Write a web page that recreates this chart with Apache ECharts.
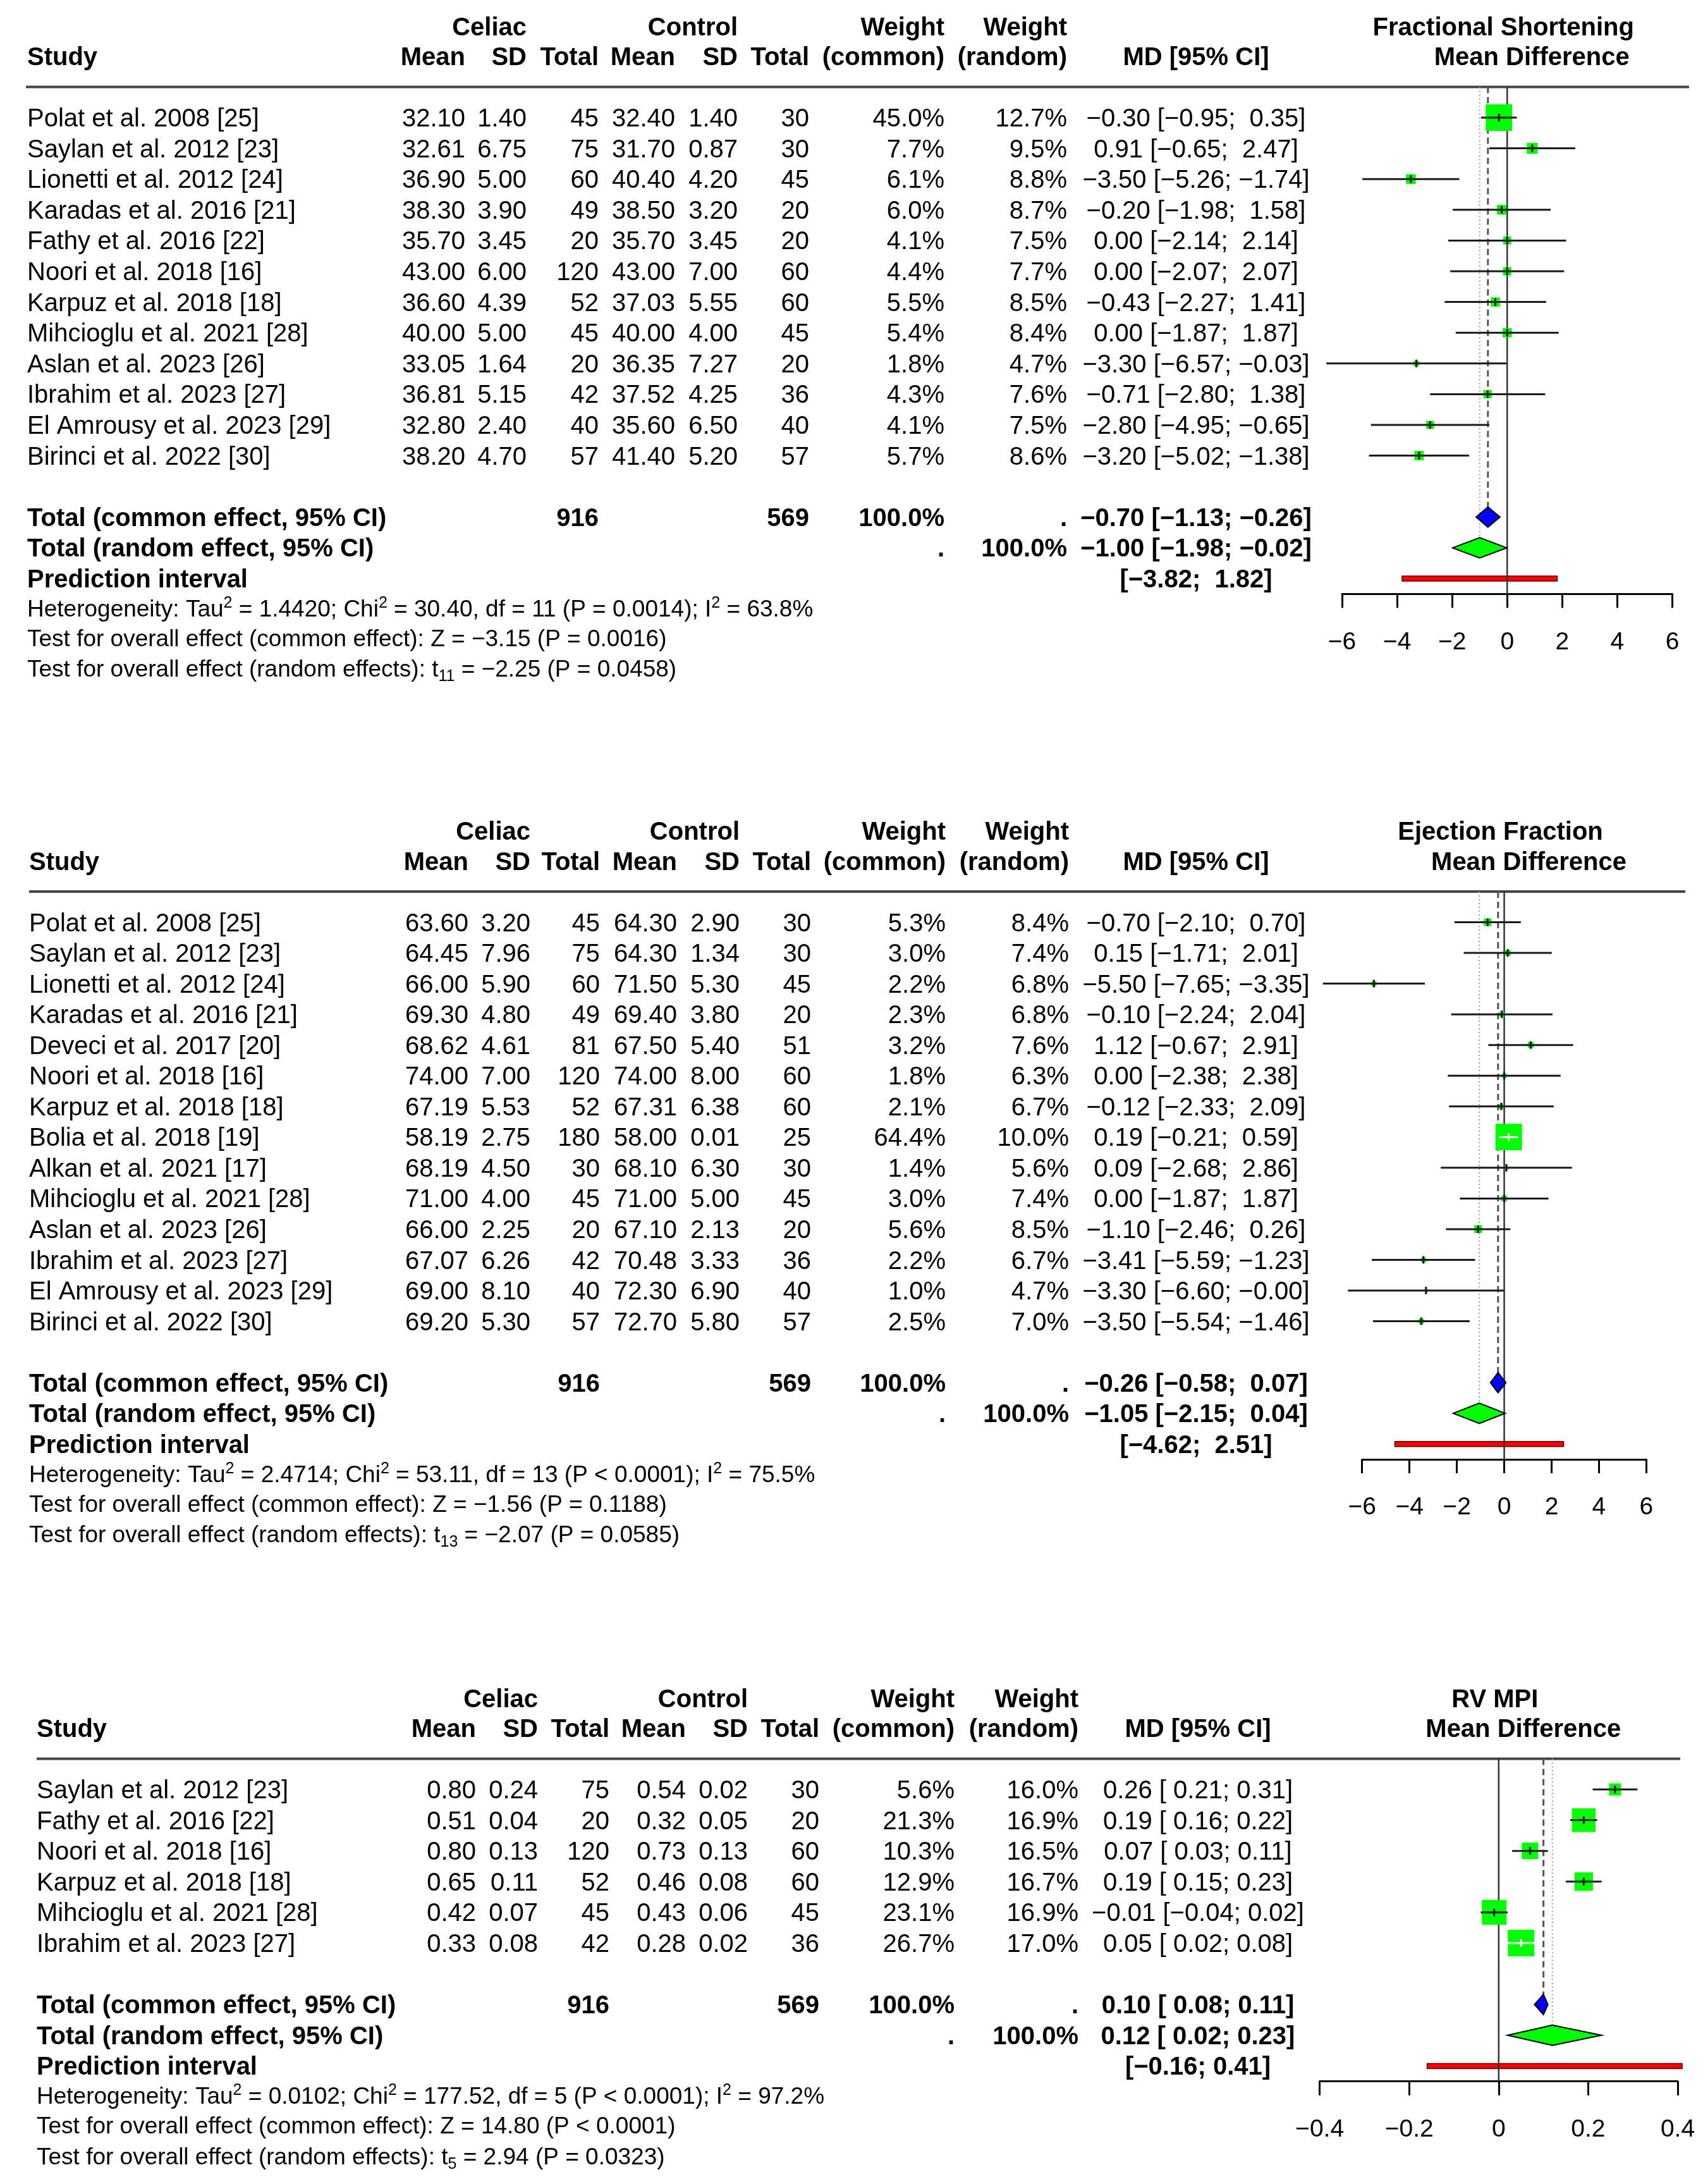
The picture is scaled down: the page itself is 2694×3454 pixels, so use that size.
<!DOCTYPE html>
<html>
<head>
<meta charset="utf-8">
<script src="https://cdn.jsdelivr.net/npm/echarts@6/dist/echarts.min.js"></script>
<style>
html,body{margin:0;padding:0;background:#fff;}
#main{width:2694px;height:3454px;}
</style>
</head>
<body>
<div id="main"></div>
<script>
// ---------------- DATA: Fractional Shortening ----------------
const fsStudy = ['Polat et al. 2008 [25]','Saylan et al. 2012 [23]','Lionetti et al. 2012 [24]','Karadas et al. 2016 [21]','Fathy et al. 2016 [22]','Noori et al. 2018 [16]','Karpuz et al. 2018 [18]','Mihcioglu et al. 2021 [28]','Aslan et al. 2023 [26]','Ibrahim et al. 2023 [27]','El Amrousy et al. 2023 [29]','Birinci et al. 2022 [30]'];
const fsCeliacMean = [32.10,32.61,36.90,38.30,35.70,43.00,36.60,40.00,33.05,36.81,32.80,38.20];
const fsCeliacSD   = [1.40,6.75,5.00,3.90,3.45,6.00,4.39,5.00,1.64,5.15,2.40,4.70];
const fsCeliacN    = [45,75,60,49,20,120,52,45,20,42,40,57];
const fsControlMean= [32.40,31.70,40.40,38.50,35.70,43.00,37.03,40.00,36.35,37.52,35.60,41.40];
const fsControlSD  = [1.40,0.87,4.20,3.20,3.45,7.00,5.55,4.00,7.27,4.25,6.50,5.20];
const fsControlN   = [30,30,45,20,20,60,60,45,20,36,40,57];
const fsWeightCommon = [45.0,7.7,6.1,6.0,4.1,4.4,5.5,5.4,1.8,4.3,4.1,5.7];
const fsWeightRandom = [12.7,9.5,8.8,8.7,7.5,7.7,8.5,8.4,4.7,7.6,7.5,8.6];
const fsMD    = [-0.30,0.91,-3.50,-0.20,0.00,0.00,-0.43,0.00,-3.30,-0.71,-2.80,-3.20];
const fsLower = [-0.95,-0.65,-5.26,-1.98,-2.14,-2.07,-2.27,-1.87,-6.57,-2.80,-4.95,-5.02];
const fsUpper = [0.35,2.47,-1.74,1.58,2.14,2.07,1.41,1.87,-0.03,1.38,-0.65,-1.38];
const fsTotals = [916,569];
const fsCommon = [-0.70,-1.13,-0.26];
const fsRandom = [-1.00,-1.98,-0.02];
const fsPI = [-3.82,1.82];
const fsTicks = [-6,-4,-2,0,2,4,6];
const fsTitle = ['Fractional Shortening','Mean Difference'];
const fsFooter = ['Heterogeneity: Tau{sup|2} = 1.4420; Chi{sup|2} = 30.40, df = 11 (P = 0.0014); I{sup|2} = 63.8%',
  'Test for overall effect (common effect): Z = \u22123.15 (P = 0.0016)',
  'Test for overall effect (random effects): t{sub|11} = \u22122.25 (P = 0.0458)'];

// ---------------- DATA: Ejection Fraction ----------------
const efStudy = ['Polat et al. 2008 [25]','Saylan et al. 2012 [23]','Lionetti et al. 2012 [24]','Karadas et al. 2016 [21]','Deveci et al. 2017 [20]','Noori et al. 2018 [16]','Karpuz et al. 2018 [18]','Bolia et al. 2018 [19]','Alkan et al. 2021 [17]','Mihcioglu et al. 2021 [28]','Aslan et al. 2023 [26]','Ibrahim et al. 2023 [27]','El Amrousy et al. 2023 [29]','Birinci et al. 2022 [30]'];
const efCeliacMean = [63.60,64.45,66.00,69.30,68.62,74.00,67.19,58.19,68.19,71.00,66.00,67.07,69.00,69.20];
const efCeliacSD   = [3.20,7.96,5.90,4.80,4.61,7.00,5.53,2.75,4.50,4.00,2.25,6.26,8.10,5.30];
const efCeliacN    = [45,75,60,49,81,120,52,180,30,45,20,42,40,57];
const efControlMean= [64.30,64.30,71.50,69.40,67.50,74.00,67.31,58.00,68.10,71.00,67.10,70.48,72.30,72.70];
const efControlSD  = [2.90,1.34,5.30,3.80,5.40,8.00,6.38,0.01,6.30,5.00,2.13,3.33,6.90,5.80];
const efControlN   = [30,30,45,20,51,60,60,25,30,45,20,36,40,57];
const efWeightCommon = [5.3,3.0,2.2,2.3,3.2,1.8,2.1,64.4,1.4,3.0,5.6,2.2,1.0,2.5];
const efWeightRandom = [8.4,7.4,6.8,6.8,7.6,6.3,6.7,10.0,5.6,7.4,8.5,6.7,4.7,7.0];
const efMD    = [-0.70,0.15,-5.50,-0.10,1.12,0.00,-0.12,0.19,0.09,0.00,-1.10,-3.41,-3.30,-3.50];
const efLower = [-2.10,-1.71,-7.65,-2.24,-0.67,-2.38,-2.33,-0.21,-2.68,-1.87,-2.46,-5.59,-6.60,-5.54];
const efUpper = [0.70,2.01,-3.35,2.04,2.91,2.38,2.09,0.59,2.86,1.87,0.26,-1.23,-0.003,-1.46];
const efTotals = [916,569];
const efCommon = [-0.26,-0.58,0.07];
const efRandom = [-1.05,-2.15,0.04];
const efPI = [-4.62,2.51];
const efTicks = [-6,-4,-2,0,2,4,6];
const efTitle = ['Ejection Fraction','Mean Difference'];
const efFooter = ['Heterogeneity: Tau{sup|2} = 2.4714; Chi{sup|2} = 53.11, df = 13 (P < 0.0001); I{sup|2} = 75.5%',
  'Test for overall effect (common effect): Z = \u22121.56 (P = 0.1188)',
  'Test for overall effect (random effects): t{sub|13} = \u22122.07 (P = 0.0585)'];

// ---------------- DATA: RV MPI ----------------
const rvStudy = ['Saylan et al. 2012 [23]','Fathy et al. 2016 [22]','Noori et al. 2018 [16]','Karpuz et al. 2018 [18]','Mihcioglu et al. 2021 [28]','Ibrahim et al. 2023 [27]'];
const rvCeliacMean = [0.80,0.51,0.80,0.65,0.42,0.33];
const rvCeliacSD   = [0.24,0.04,0.13,0.11,0.07,0.08];
const rvCeliacN    = [75,20,120,52,45,42];
const rvControlMean= [0.54,0.32,0.73,0.46,0.43,0.28];
const rvControlSD  = [0.02,0.05,0.13,0.08,0.06,0.02];
const rvControlN   = [30,20,60,60,45,36];
const rvWeightCommon = [5.6,21.3,10.3,12.9,23.1,26.7];
const rvWeightRandom = [16.0,16.9,16.5,16.7,16.9,17.0];
const rvMD    = [0.26,0.19,0.07,0.19,-0.01,0.05];
const rvLower = [0.21,0.16,0.03,0.15,-0.04,0.02];
const rvUpper = [0.31,0.22,0.11,0.23,0.02,0.08];
const rvTotals = [916,569];
const rvCommon = [0.10,0.08,0.11];
const rvRandom = [0.12,0.02,0.23];
const rvPI = [-0.16,0.41];
const rvTicks = [-0.4,-0.2,0,0.2,0.4];
const rvTitle = ['RV MPI','Mean Difference'];
const rvFooter = ['Heterogeneity: Tau{sup|2} = 0.0102; Chi{sup|2} = 177.52, df = 5 (P < 0.0001); I{sup|2} = 97.2%',
  'Test for overall effect (common effect): Z = 14.80 (P < 0.0001)',
  'Test for overall effect (random effects): t{sub|5} = 2.94 (P = 0.0323)'];

// ---------------- LAYOUT ----------------
const FONT = 'Arial, "Liberation Sans", Helvetica, sans-serif';
const MINUS = '\u2212';
const BOX = 42;
const TY = 3; // text baseline nudge

const panels = [
  { study: fsStudy, cm: fsCeliacMean, cs: fsCeliacSD, cn: fsCeliacN, km: fsControlMean, ks: fsControlSD, kn: fsControlN,
    wc: fsWeightCommon, wr: fsWeightRandom, md: fsMD, lo: fsLower, hi: fsUpper, totals: fsTotals,
    common: fsCommon, random: fsRandom, pi: fsPI, ticks: fsTicks, title: fsTitle, footer: fsFooter,
    L: { studyX: 43, lineX0: 41, lineX1: 2672, cols: [736,833,947,1068,1167,1280], wC: 1494, wR: 1688, ci: 1892,
         axL: 2123, axR: 2645.5, top: 137.4, rowH: 48.6 } },
  { study: efStudy, cm: efCeliacMean, cs: efCeliacSD, cn: efCeliacN, km: efControlMean, ks: efControlSD, kn: efControlN,
    wc: efWeightCommon, wr: efWeightRandom, md: efMD, lo: efLower, hi: efUpper, totals: efTotals,
    common: efCommon, random: efRandom, pi: efPI, ticks: efTicks, title: efTitle, footer: efFooter,
    L: { studyX: 46, lineX0: 46, lineX1: 2666, cols: [741,839,949,1071,1170,1283], wC: 1496, wR: 1691, ci: 1892,
         axL: 2154.7, axR: 2604.4, top: 1410, rowH: 48.54 } },
  { study: rvStudy, cm: rvCeliacMean, cs: rvCeliacSD, cn: rvCeliacN, km: rvControlMean, ks: rvControlSD, kn: rvControlN,
    wc: rvWeightCommon, wr: rvWeightRandom, md: rvMD, lo: rvLower, hi: rvUpper, totals: rvTotals,
    common: rvCommon, random: rvRandom, pi: rvPI, ticks: rvTicks, title: rvTitle, footer: rvFooter,
    L: { studyX: 58, lineX0: 58, lineX1: 2658, cols: [753,851,964,1085,1183,1296], wC: 1510, wR: 1706, ci: 1895,
         axL: 2087.6, axR: 2654, top: 2781.4, rowH: 48.6 } }
];

function fmt(v, d) { return v.toFixed(d).replace('-', MINUS); }
function pct(v) { return v.toFixed(1) + '%'; }
function padNum(v, pad) { return (pad && v >= 0 ? ' ' : '') + fmt(v, 2); }
function panelPads(p) {
  const los = p.lo.concat([p.common[1], p.random[1], p.pi[0]]);
  const his = p.hi.concat([p.common[2], p.random[2], p.pi[1]]);
  return { lo: los.some(v => v < 0), hi: his.some(v => v < 0) };
}
function ciStr(md, lo, hi, pads) { return fmt(md, 2) + ' [' + padNum(lo, pads.lo) + '; ' + padNum(hi, pads.hi) + ']'; }
function piStr(lo, hi, pads) { return '[' + padNum(lo, pads.lo) + '; ' + padNum(hi, pads.hi) + ']'; }

function T(text, x, y, align, bold, size) {
  return { type: 'text', x: x, y: y + TY, style: { text: text, fill: '#000', fontFamily: FONT, fontSize: size || 40,
    fontWeight: bold ? 'bold' : 'normal', align: align, verticalAlign: 'middle' } };
}
function RT(text, x, y) {
  return { type: 'text', x: x, y: y + TY, style: { text: text, fill: '#000', fontFamily: FONT, fontSize: 37, lineHeight: 46,
    align: 'left', verticalAlign: 'middle',
    rich: { sup: { fontFamily: FONT, fontSize: 25, lineHeight: 25, verticalAlign: 'top', fill: '#000' },
            sub: { fontFamily: FONT, fontSize: 25, lineHeight: 25, verticalAlign: 'bottom', fill: '#000' } } } };
}

function studySeries(p, idx) {
  const pads = panelPads(p);
  const maxW = Math.max.apply(null, p.wc);
  const L = p.L;
  return {
    type: 'custom', xAxisIndex: idx, yAxisIndex: idx, clip: false, silent: true, z: 5,
    data: p.md.map((v, i) => [v, i]),
    renderItem: function (params, api) {
      const i = params.dataIndex;
      const y = api.coord([0, i])[1];
      const ch = [];
      ch.push(T(p.study[i], L.studyX, y, 'left'));
      ch.push(T(fmt(p.cm[i], 2), L.cols[0], y, 'right'));
      ch.push(T(fmt(p.cs[i], 2), L.cols[1], y, 'right'));
      ch.push(T(String(p.cn[i]), L.cols[2], y, 'right'));
      ch.push(T(fmt(p.km[i], 2), L.cols[3], y, 'right'));
      ch.push(T(fmt(p.ks[i], 2), L.cols[4], y, 'right'));
      ch.push(T(String(p.kn[i]), L.cols[5], y, 'right'));
      ch.push(T(pct(p.wc[i]), L.wC, y, 'right'));
      ch.push(T(pct(p.wr[i]), L.wR, y, 'right'));
      ch.push(T(ciStr(p.md[i], p.lo[i], p.hi[i], pads), L.ci, y, 'center'));
      const xm = api.coord([p.md[i], i])[0];
      const xl = api.coord([p.lo[i], i])[0];
      const xh = api.coord([p.hi[i], i])[0];
      const s = BOX * Math.sqrt(p.wc[i] / maxW);
      const inside = (xh - xl) <= s + 1;
      const lc = inside ? '#ffffff' : '#1a1a1a';
      ch.push({ type: 'rect', shape: { x: xm - s / 2, y: y - s / 2, width: s, height: s }, style: { fill: '#00ff00' } });
      ch.push({ type: 'line', shape: { x1: xl, y1: y, x2: xh, y2: y }, style: { stroke: lc, lineWidth: 3 } });
      ch.push({ type: 'line', shape: { x1: xm, y1: y - 6, x2: xm, y2: y + 6 }, style: { stroke: lc, lineWidth: 3 } });
      return { type: 'group', children: ch };
    }
  };
}

function decoSeries(p, idx) {
  const pads = panelPads(p);
  const L = p.L;
  const n = p.study.length;
  return {
    type: 'custom', xAxisIndex: idx, yAxisIndex: idx, clip: false, silent: true, z: 2,
    data: [[0, 0]],
    renderItem: function (params, api) {
      const Y = r => api.coord([0, r])[1];
      const X = v => api.coord([v, 0])[0];
      const ch = [];
      const yH1 = Y(-2.97), yH2 = Y(-1.99), yTop = Y(-1);
      // headers
      ch.push(T('Celiac', L.cols[1], yH1, 'right', true));
      ch.push(T('Control', L.cols[4], yH1, 'right', true));
      ch.push(T('Weight', L.wC, yH1, 'right', true));
      ch.push(T('Weight', L.wR, yH1, 'right', true));
      ch.push(T('Study', L.studyX, yH2, 'left', true));
      ch.push(T('Mean', L.cols[0], yH2, 'right', true));
      ch.push(T('SD', L.cols[1], yH2, 'right', true));
      ch.push(T('Total', L.cols[2], yH2, 'right', true));
      ch.push(T('Mean', L.cols[3], yH2, 'right', true));
      ch.push(T('SD', L.cols[4], yH2, 'right', true));
      ch.push(T('Total', L.cols[5], yH2, 'right', true));
      ch.push(T('(common)', L.wC, yH2, 'right', true));
      ch.push(T('(random)', L.wR, yH2, 'right', true));
      ch.push(T('MD [95% CI]', L.ci, yH2, 'center', true));
      const fc = (L.axL + L.axR) / 2;
      ch.push(T(p.title[0], fc - 6, yH1, 'center', true));
      ch.push(T(p.title[1], fc + 39, yH2, 'center', true));
      // top rule
      ch.push({ type: 'line', shape: { x1: L.lineX0, y1: yTop, x2: L.lineX1, y2: yTop }, style: { stroke: '#444', lineWidth: 4 } });
      // summary rows
      const rc = n + 1, rr = n + 2, rp = n + 3;
      const yc = Y(rc), yr = Y(rr), yp = Y(rp);
      ch.push(T('Total (common effect, 95% CI)', L.studyX, yc, 'left', true));
      ch.push(T(String(p.totals[0]), L.cols[2], yc, 'right', true));
      ch.push(T(String(p.totals[1]), L.cols[5], yc, 'right', true));
      ch.push(T('100.0%', L.wC, yc, 'right', true));
      ch.push(T('.', L.wR, yc, 'right', true));
      ch.push(T(ciStr(p.common[0], p.common[1], p.common[2], pads), L.ci, yc, 'center', true));
      ch.push(T('Total (random effect, 95% CI)', L.studyX, yr, 'left', true));
      ch.push(T('.', L.wC, yr, 'right', true));
      ch.push(T('100.0%', L.wR, yr, 'right', true));
      ch.push(T(ciStr(p.random[0], p.random[1], p.random[2], pads), L.ci, yr, 'center', true));
      ch.push(T('Prediction interval', L.studyX, yp, 'left', true));
      ch.push(T(piStr(p.pi[0], p.pi[1], pads), L.ci, yp, 'center', true));
      // footers
      ch.push(RT(p.footer[0], L.studyX, Y(rp + 0.96)));
      ch.push(RT(p.footer[1], L.studyX, Y(rp + 1.93)));
      ch.push(RT(p.footer[2], L.studyX, Y(rp + 2.92)));
      // prediction interval bar
      const xpl = X(p.pi[0]), xph = X(p.pi[1]);
      ch.push({ type: 'rect', shape: { x: xpl, y: yp - 4, width: xph - xpl, height: 8 }, style: { fill: '#ff0000', stroke: '#5a0000', lineWidth: 1.5 } });
      // reference lines
      const h = 16;
      ch.push({ type: 'line', shape: { x1: X(p.random[0]), y1: yTop, x2: X(p.random[0]), y2: yr - h }, style: { stroke: '#9a9a9a', lineWidth: 2, lineDash: [2, 4] } });
      ch.push({ type: 'line', shape: { x1: X(p.common[0]), y1: yTop, x2: X(p.common[0]), y2: yc - h }, style: { stroke: '#555', lineWidth: 3, lineDash: [10, 6] } });
      ch.push({ type: 'line', shape: { x1: X(0), y1: yTop, x2: X(0), y2: Y(n + 3.5) }, style: { stroke: '#333', lineWidth: 2.5 } });
      // diamonds
      const dia = (v, y, fill) => ({ type: 'polygon', shape: { points: [[X(v[1]), y], [X(v[0]), y - h], [X(v[2]), y], [X(v[0]), y + h]] },
        style: { fill: fill, stroke: '#000', lineWidth: 2 } });
      ch.push(dia(p.common, yc, '#0000ff'));
      ch.push(dia(p.random, yr, '#00ff00'));
      return { type: 'group', children: ch };
    }
  };
}

const grids = [], xAxes = [], yAxes = [], series = [];
panels.forEach((p, idx) => {
  const L = p.L, n = p.study.length;
  grids.push({ left: L.axL, top: L.top, width: L.axR - L.axL, height: (n + 4.5) * L.rowH, containLabel: false });
  const t = p.ticks;
  const dec = t.some(v => Math.round(v) !== v) ? 1 : 0;
  xAxes.push({ gridIndex: idx, type: 'value', min: t[0], max: t[t.length - 1], interval: idx === 2 ? 0.2 : 2,
    axisLine: { show: true, onZero: false, lineStyle: { color: '#000', width: 3 } },
    axisTick: { show: true, inside: false, length: 22, lineStyle: { color: '#000', width: 3 } },
    splitLine: { show: false },
    axisLabel: { show: true, margin: 57, fontSize: 39, fontFamily: FONT, color: '#000', showMinLabel: true, showMaxLabel: true,
      formatter: function (v) { const r = parseFloat(Number(v).toFixed(dec)); return r === 0 ? '0' : String(r).replace('-', MINUS); } } });
  yAxes.push({ gridIndex: idx, type: 'value', inverse: true, min: -1, max: n + 3.5, show: false });
  series.push(decoSeries(p, idx));
  series.push(studySeries(p, idx));
});

const chart = echarts.init(document.getElementById('main'), null, { renderer: 'canvas', width: 2694, height: 3454 });
chart.setOption({
  backgroundColor: '#ffffff',
  animation: false,
  grid: grids, xAxis: xAxes, yAxis: yAxes, series: series
});
</script>
</body>
</html>
